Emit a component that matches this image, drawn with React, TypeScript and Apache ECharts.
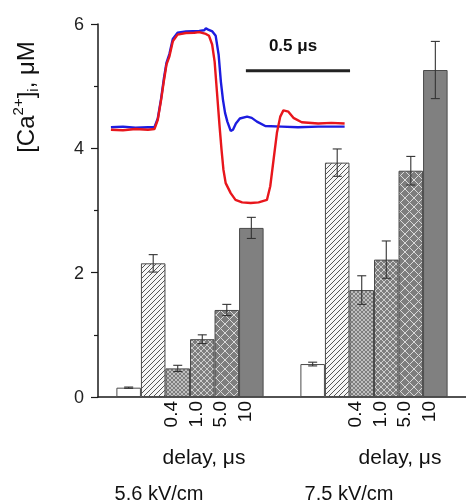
import React, { useEffect, useRef } from 'react';
import * as echarts from 'echarts';

// ---- data ----
const groupNames = ['5.6 kV/cm', '7.5 kV/cm'];
const yTicks = [0, 2, 4, 6];
const delayLabels = ['0.4', '1.0', '5.0', '10'];
const seriesNames = ['control', 'no delay', '0.4 µs', '1.0 µs', '5.0 µs', '10 µs'];

const controlVals = [0.15, 0.53];
const controlErr = [0.01, 0.03];
const singleVals = [2.15, 3.77];
const singleErr = [0.14, 0.22];
const d04Vals = [0.46, 1.72];
const d04Err = [0.05, 0.23];
const d10Vals = [0.93, 2.21];
const d10Err = [0.07, 0.3];
const d50Vals = [1.4, 3.64];
const d50Err = [0.09, 0.23];
const d100Vals = [2.72, 5.26];
const d100Err = [0.17, 0.46];

// inset traces: [time µs, [Ca2+] scale]
const redTrace = [
  [0.062, 4.3], [0.12, 4.29], [0.18, 4.31], [0.24, 4.3], [0.271, 4.31], [0.287, 4.46],
  [0.303, 4.78], [0.317, 5.1], [0.329, 5.35], [0.343, 5.48], [0.359, 5.72], [0.382, 5.83],
  [0.422, 5.855], [0.462, 5.86], [0.486, 5.87], [0.518, 5.84], [0.533, 5.81], [0.548, 5.67],
  [0.56, 5.39], [0.571, 4.91], [0.583, 4.38], [0.593, 3.98], [0.602, 3.66], [0.613, 3.44],
  [0.637, 3.28], [0.66, 3.17], [0.692, 3.13], [0.733, 3.12], [0.771, 3.13], [0.811, 3.17],
  [0.827, 3.39], [0.843, 3.82], [0.859, 4.25], [0.875, 4.51], [0.89, 4.61], [0.914, 4.59],
  [0.938, 4.49], [0.978, 4.42], [1.057, 4.4], [1.12, 4.41], [1.184, 4.4],
];
const blueTrace = [
  [0.062, 4.34], [0.12, 4.35], [0.18, 4.33], [0.24, 4.34], [0.271, 4.34], [0.287, 4.48],
  [0.303, 4.8], [0.317, 5.14], [0.329, 5.38], [0.343, 5.52], [0.359, 5.76], [0.382, 5.86],
  [0.422, 5.88], [0.486, 5.89], [0.51, 5.9], [0.518, 5.93], [0.529, 5.91], [0.549, 5.88],
  [0.565, 5.81], [0.579, 5.51], [0.59, 5.07], [0.6, 4.78], [0.61, 4.57], [0.621, 4.43],
  [0.637, 4.28], [0.648, 4.3], [0.662, 4.4], [0.681, 4.48], [0.716, 4.51], [0.738, 4.49],
  [0.763, 4.43], [0.803, 4.36], [0.882, 4.35], [0.96, 4.34], [1.057, 4.35], [1.184, 4.35],
];
const scaleBar = [[0.71, 5.25], [1.21, 5.25]];
const scaleBarLabel = '0.5 μs';

function hatchCanvas(bg: string, fg: string, p: number, cross: boolean, lw: number) {
  const c = document.createElement('canvas');
  c.width = p;
  c.height = p;
  const ctx = c.getContext('2d')!;
  ctx.fillStyle = bg;
  ctx.fillRect(0, 0, p, p);
  ctx.strokeStyle = fg;
  ctx.lineWidth = lw;
  ctx.beginPath();
  ctx.moveTo(-1, p + 1); ctx.lineTo(p + 1, -1);
  ctx.moveTo(-1, 1); ctx.lineTo(1, -1);
  ctx.moveTo(p - 1, p + 1); ctx.lineTo(p + 1, p - 1);
  if (cross) {
    ctx.moveTo(-1, -1); ctx.lineTo(p + 1, p + 1);
    ctx.moveTo(p - 1, -1); ctx.lineTo(p + 1, 1);
    ctx.moveTo(-1, p - 1); ctx.lineTo(1, p + 1);
  }
  ctx.stroke();
  return c;
}

export default function App() {
  const ref = useRef<HTMLDivElement>(null);
  useEffect(() => {
    if (!ref.current) return;
    const chart = echarts.init(ref.current, undefined, { renderer: 'svg' });

    const vals = [controlVals, singleVals, d04Vals, d10Vals, d50Vals, d100Vals];
    const errs = [controlErr, singleErr, d04Err, d10Err, d50Err, d100Err];
    const fills: any[] = [
      '#ffffff',
      { image: hatchCanvas('#f6f6f6', '#555555', 5, false, 1), repeat: 'repeat' },
      { image: hatchCanvas('#7e7e7e', '#cfcfcf', 4, true, 0.8), repeat: 'repeat' },
      { image: hatchCanvas('#7e7e7e', '#d6d6d6', 6, true, 0.9), repeat: 'repeat' },
      { image: hatchCanvas('#7e7e7e', '#dadada', 9, true, 1), repeat: 'repeat' },
      '#808080',
    ];
    const font = 'Liberation Sans, Arial, sans-serif';

    const barSeries = vals.map((v, i) => ({
      type: 'bar',
      name: seriesNames[i],
      data: v,
      barGap: '0%',
      barCategoryGap: '20%',
      itemStyle: { color: fills[i], borderColor: '#4a4a4a', borderWidth: 1 },
      z: 2,
    }));

    const errData: number[][] = [];
    vals.forEach((v, s) => v.forEach((val, g) => errData.push([g, val, errs[s][g], s])));

    const labelData: number[][] = [];
    groupNames.forEach((_, g) => delayLabels.forEach((__, k) => labelData.push([g, 0, k + 2, k])));

    chart.setOption({
      animation: false,
      grid: { left: 98, top: 24, width: 371, height: 373 },
      xAxis: [
        {
          type: 'category',
          data: groupNames,
          axisLine: { lineStyle: { color: '#1a1a1a', width: 1.5 } },
          axisTick: { show: false },
          axisLabel: { show: false },
        },
        { type: 'value', min: 0, max: 1.7667, show: false, position: 'top' },
      ],
      yAxis: {
        type: 'value',
        min: yTicks[0],
        max: yTicks[yTicks.length - 1],
        interval: 2,
        axisLine: { show: true, lineStyle: { color: '#1a1a1a', width: 1.5 } },
        axisTick: { show: true, length: 7, lineStyle: { color: '#1a1a1a', width: 1.2 } },
        minorTick: { show: true, splitNumber: 2, length: 4, lineStyle: { color: '#1a1a1a', width: 1.2 } },
        splitLine: { show: false },
        axisLabel: { fontSize: 18, color: '#222', fontFamily: font, margin: 14 },
      },
      series: [
        ...barSeries,
        {
          type: 'custom',
          name: 'error',
          data: errData,
          z: 5,
          renderItem: (params: any, api: any) => {
            const g = api.value(0), v = api.value(1), e = api.value(2), s = api.value(3);
            const base = api.coord([g, 0]);
            const bw = (api.size([1, 0])[0] * 0.8) / 6;
            const cx = base[0] + (s - 2.5) * bw;
            const top = api.coord([g, v + e])[1];
            const bot = api.coord([g, v - e])[1];
            const st = { stroke: '#333', lineWidth: 1.1 };
            return {
              type: 'group',
              children: [
                { type: 'line', shape: { x1: cx, y1: top, x2: cx, y2: bot }, style: st },
                { type: 'line', shape: { x1: cx - 4.5, y1: top, x2: cx + 4.5, y2: top }, style: st },
                { type: 'line', shape: { x1: cx - 4.5, y1: bot, x2: cx + 4.5, y2: bot }, style: st },
              ],
            };
          },
        },
        {
          type: 'custom',
          name: 'delay labels',
          data: labelData,
          z: 5,
          renderItem: (params: any, api: any) => {
            const g = api.value(0), s = api.value(2), k = api.value(3);
            const base = api.coord([g, 0]);
            const bw = (api.size([1, 0])[0] * 0.8) / 6;
            const cx = base[0] + (s - 2.5) * bw;
            return {
              type: 'text',
              x: cx - 7,
              y: base[1] + 4,
              rotation: Math.PI / 2,
              style: {
                text: delayLabels[k],
                fontSize: 19,
                fontFamily: font,
                fill: '#111',
                align: 'right',
                verticalAlign: 'middle',
                textAlign: 'right',
                textVerticalAlign: 'middle',
              },
            };
          },
        },
        {
          type: 'line',
          name: 'blue trace',
          xAxisIndex: 1,
          data: blueTrace,
          showSymbol: false,
          lineStyle: { color: '#1c1ce0', width: 2.4 },
          z: 6,
        },
        {
          type: 'line',
          name: 'red trace',
          xAxisIndex: 1,
          data: redTrace,
          showSymbol: false,
          lineStyle: { color: '#e8161c', width: 2.4 },
          z: 7,
        },
        {
          type: 'line',
          name: 'scale bar',
          xAxisIndex: 1,
          data: scaleBar,
          showSymbol: false,
          lineStyle: { color: '#222', width: 3 },
          z: 6,
        },
      ],
      graphic: [
        {
          type: 'text',
          x: 25,
          y: 97,
          rotation: Math.PI / 2,
          style: {
            text: '{a|[Ca}{sup|2+}{a|]}{sub|i}{a|, μM}',
            align: 'center',
            verticalAlign: 'middle',
            rich: {
              a: { fontSize: 24, fontFamily: font, fill: '#111', lineHeight: 30, verticalAlign: 'middle' },
              sup: { fontSize: 15, fontFamily: font, fill: '#111', lineHeight: 15, verticalAlign: 'top' },
              sub: { fontSize: 15, fontFamily: font, fill: '#111', lineHeight: 15, verticalAlign: 'bottom' },
            },
          },
        },
        {
          type: 'text', x: 293, y: 45,
          style: { text: scaleBarLabel, fontSize: 17, fontWeight: 'bold', fontFamily: font, fill: '#111', align: 'center', verticalAlign: 'middle' },
        },
        {
          type: 'text', x: 204, y: 456,
          style: { text: 'delay, μs', fontSize: 21, fontFamily: font, fill: '#111', align: 'center', verticalAlign: 'middle' },
        },
        {
          type: 'text', x: 400, y: 456,
          style: { text: 'delay, μs', fontSize: 21, fontFamily: font, fill: '#111', align: 'center', verticalAlign: 'middle' },
        },
        {
          type: 'text', x: 159, y: 493,
          style: { text: groupNames[0], fontSize: 20, fontFamily: font, fill: '#111', align: 'center', verticalAlign: 'middle' },
        },
        {
          type: 'text', x: 349, y: 493,
          style: { text: groupNames[1], fontSize: 20, fontFamily: font, fill: '#111', align: 'center', verticalAlign: 'middle' },
        },
      ],
    });
    return () => chart.dispose();
  }, []);
  return <div ref={ref} style={{ position: 'fixed', left: 0, top: 0, width: 466, height: 503 }} />;
}
